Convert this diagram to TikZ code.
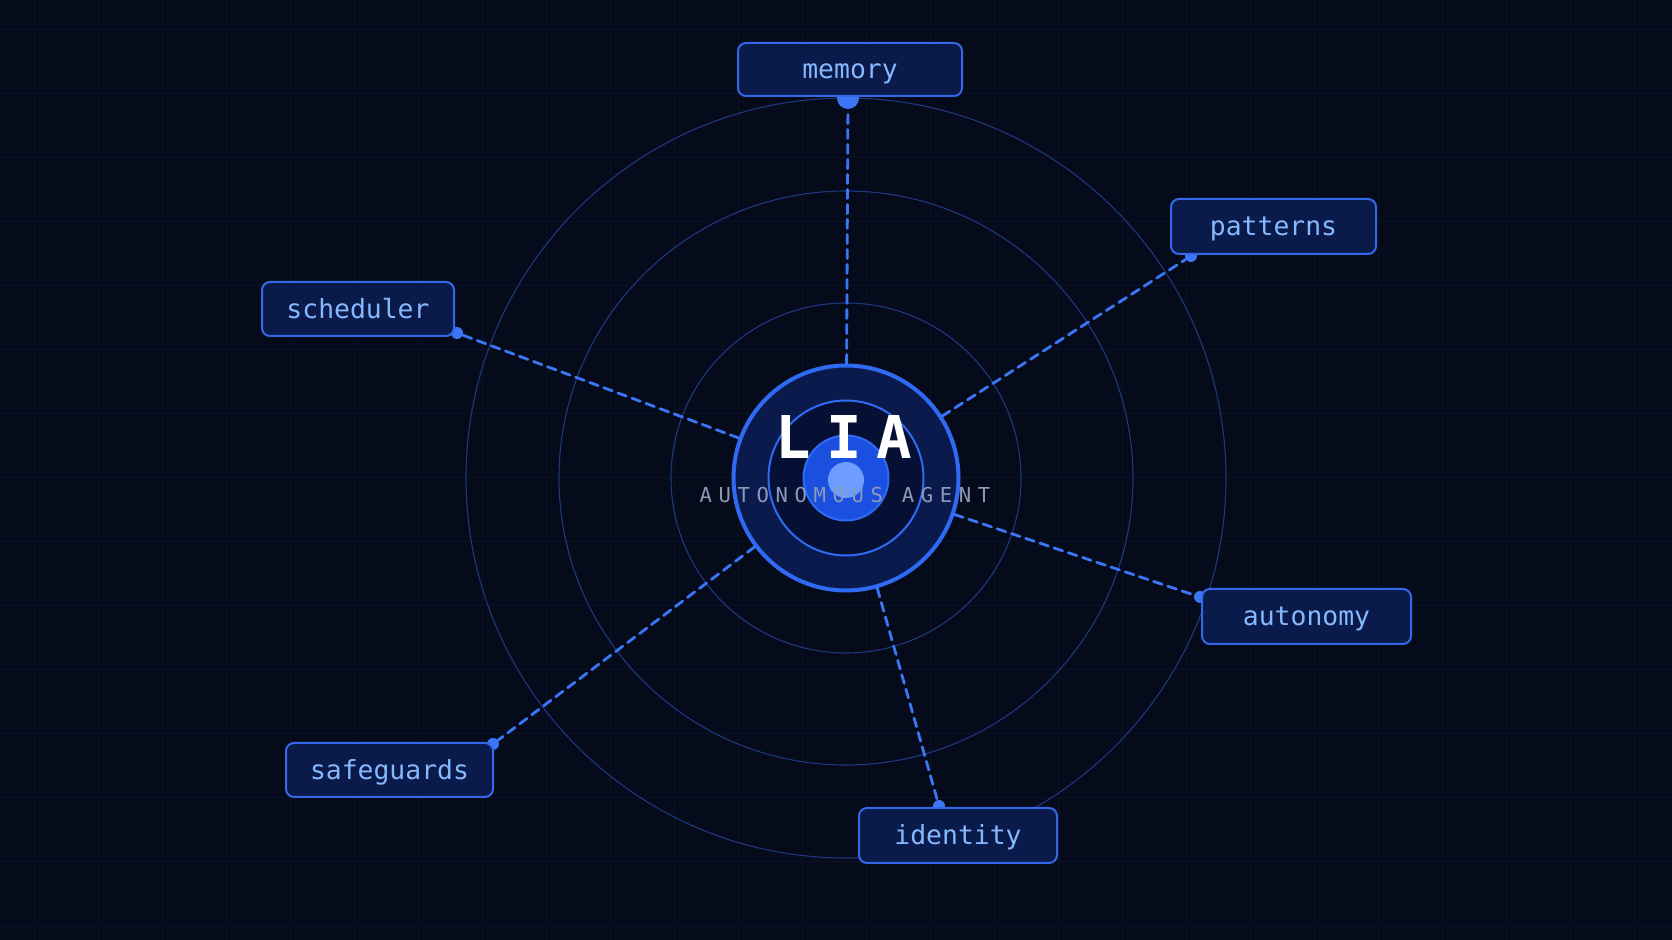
\documentclass[tikz,border=0pt]{standalone}
\usepackage{fontspec}
\setmonofont{DejaVu Sans Mono}
\usepackage{tikz}
\definecolor{bgnavy}{HTML}{060B1B}
\definecolor{gridnavy}{HTML}{0A1226}
\definecolor{orbitblue}{HTML}{1D387F}
\definecolor{ringblue}{HTML}{2F6AF5}
\definecolor{coreband}{HTML}{0A1A4C}
\definecolor{coreinner}{HTML}{061034}
\definecolor{corefill}{HTML}{1B4FE0}
\definecolor{corelight}{HTML}{6C9DFF}
\definecolor{subgrey}{HTML}{8A9AB8}
\definecolor{boxfill}{HTML}{0A1A4A}
\definecolor{boxline}{HTML}{3568E8}
\definecolor{labelblue}{HTML}{86B8FF}
\definecolor{linkblue}{HTML}{3A76F5}
\tikzstyle{module}=[draw=boxline,fill=boxfill,line width=1pt,rounded corners=4pt,inner sep=0pt,text height=9.5pt,text depth=0pt,text=labelblue,font=\ttfamily\fontsize{13.2}{15}\selectfont]
\tikzstyle{orbit}=[draw=orbitblue,line width=0.55pt]
\tikzstyle{link}=[draw=linkblue,line width=1.4pt,dash pattern=on 4.5pt off 3pt,line cap=round]
\tikzstyle{port}=[circle,fill=linkblue,inner sep=0pt,minimum size=6pt]
\begin{document}
\begin{tikzpicture}[x=0.5pt,y=-0.5pt]
% background
\useasboundingbox (0,0) rectangle (1672,940);
\fill[bgnavy] (0,0) rectangle (1672,940);
\begin{scope}[shift={(34,30)}]
\draw[gridnavy,line width=0.5pt,step=32pt] (-34,-30) grid (1638,910);
\end{scope}
% orbits
\coordinate (hub) at (846,478);
\draw[orbit] (hub) circle (175);
\draw[orbit] (hub) circle (287);
\draw[orbit] (hub) circle (380);
% core
\node[circle,draw=ringblue,line width=2pt,fill=coreband,minimum size=112.5pt,inner sep=0pt] (core) at (hub) {};
\draw[ringblue,line width=1pt,fill=coreinner] (core.center) circle (77.5);
\draw[ringblue,line width=1pt,fill=corefill] (core.center) circle (42.5);
\fill[corelight] (846,480) circle (18);
\node[text=white,font=\ttfamily\bfseries\fontsize{29.5}{30}\selectfont\addfontfeature{LetterSpace=25}] (title) at (844,437) {LIA};
\node[text=subgrey,font=\ttfamily\fontsize{10.3}{12}\selectfont\addfontfeature{LetterSpace=32}] (subtitle) at (845,495) {AUTONOMOUS AGENT};
% ports
\node[port,minimum size=11pt] (p_mem) at (848,98) {};
\node[port] (p_pat) at (1191,256) {};
\node[port] (p_sch) at (457,333) {};
\node[port] (p_aut) at (1200,597) {};
\node[port] (p_saf) at (493,744) {};
\node[port] (p_ide) at (939,806) {};
% links
\draw[link] (core) -- (p_mem);
\draw[link] (core) -- (p_pat);
\draw[link] (core) -- (p_sch);
\draw[link] (core) -- (p_aut);
\draw[link] (core) -- (p_saf);
\draw[link] (core) -- (p_ide);
% modules
\node[module,minimum width=112pt,minimum height=26.5pt] (memory) at (850,69.5) {memory};
\node[module,minimum width=102.5pt,minimum height=27.5pt] (patterns) at (1273.5,226.5) {patterns};
\node[module,minimum width=96pt,minimum height=27pt] (scheduler) at (358,309) {scheduler};
\node[module,minimum width=104.5pt,minimum height=27.5pt] (autonomy) at (1306.5,616.5) {autonomy};
\node[module,minimum width=103.5pt,minimum height=27pt] (safeguards) at (389.5,770) {safeguards};
\node[module,minimum width=99pt,minimum height=27.5pt] (identity) at (958,835.5) {identity};
\end{tikzpicture}
\end{document}
